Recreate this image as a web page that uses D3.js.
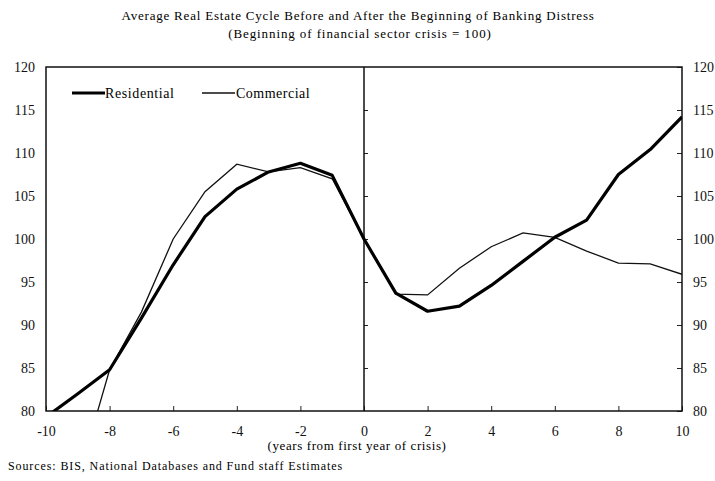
<!DOCTYPE html>
<html lang="en">
<head>
<meta charset="UTF-8">
<title>Average Real Estate Cycle</title>
<script src="https://cdn.jsdelivr.net/npm/d3@7/dist/d3.min.js"></script>
<style>
  body { margin: 0; background: #fff; }
  svg { display: block; font-family: "Liberation Serif", "Times New Roman", serif; }
</style>
</head>
<body>
<div class="container"></div>
<script>
// years from first year of crisis
const years = [-10, -9, -8, -7, -6, -5, -4, -3, -2, -1, 0, 1, 2, 3, 4, 5, 6, 7, 8, 9, 10]
const residential = [79.3, 82.0, 84.8, 90.8, 97.0, 102.6, 105.8, 107.8, 108.8, 107.4, 100,
                     93.7, 91.6, 92.2, 94.6, 97.4, 100.2, 102.2, 107.5, 110.4, 114.2]
const commercial = [null, 72.0, 84.8, 91.5, 100.0, 105.5, 108.7, 107.8, 108.3, 107.0, 100,
                    93.6, 93.5, 96.6, 99.1, 100.7, 100.2, 98.6, 97.2, 97.1, 95.9]
const yTicks = [80, 85, 90, 95, 100, 105, 110, 115, 120]
const xTicks = [-10, -8, -6, -4, -2, 0, 2, 4, 6, 8, 10]

const W = 715, H = 481
const m = {left: 46, right: 682, top: 67, bottom: 411}

const svg = d3.select(".container").append("svg")
    .attr("width", W).attr("height", H)

const x = d3.scaleLinear().domain([-10, 10]).range([m.left, m.right])
const y = d3.scaleLinear().domain([80, 120]).range([m.bottom, m.top])

// title
svg.append("text").attr("x", 358).attr("y", 20).attr("text-anchor", "middle")
    .attr("font-size", 13).attr("letter-spacing", 0.8)
    .text("Average Real Estate Cycle Before and After the Beginning of Banking Distress")
svg.append("text").attr("x", 360).attr("y", 38).attr("text-anchor", "middle")
    .attr("font-size", 13).attr("letter-spacing", 0.9)
    .text("(Beginning of financial sector crisis = 100)")

// clip
svg.append("clipPath").attr("id", "plot")
    .append("rect").attr("x", m.left).attr("y", m.top)
    .attr("width", m.right - m.left).attr("height", m.bottom - m.top)

function styleText(sel) {
    sel.selectAll("text").attr("font-size", 14).attr("font-family", "Liberation Serif").attr("fill", "#111")
}

// left axis (labels only)
const left = svg.append("g").attr("transform", `translate(${m.left},0)`)
    .call(d3.axisLeft(y).tickValues(yTicks).tickSize(0).tickPadding(11))
left.select(".domain").remove()
styleText(left)

// right axis, ticks inward
const right = svg.append("g").attr("transform", `translate(${m.right},0)`)
    .call(d3.axisRight(y).tickValues(yTicks).tickSizeInner(-5).tickSizeOuter(0).tickPadding(11))
right.select(".domain").remove()
styleText(right)
right.selectAll("line").attr("stroke", "#222")

// bottom axis, ticks inward
const bottom = svg.append("g").attr("transform", `translate(0,${m.bottom})`)
    .call(d3.axisBottom(x).tickValues(xTicks).tickSizeInner(-5).tickSizeOuter(0).tickPadding(15)
        .tickFormat(d => String(d)))
bottom.select(".domain").remove()
styleText(bottom)
bottom.selectAll("line").attr("stroke", "#222")

// zero line with ticks to the right
const zero = svg.append("g").attr("transform", `translate(${x(0)},0)`)
    .call(d3.axisRight(y).tickValues(yTicks.slice(1, -1)).tickSizeInner(4).tickSizeOuter(0).tickFormat(""))
zero.select(".domain").remove()
zero.selectAll("line").attr("stroke", "#222")
svg.append("line").attr("x1", x(0)).attr("x2", x(0)).attr("y1", m.top).attr("y2", m.bottom)
    .attr("stroke", "#111").attr("stroke-width", 1.5)

// frame
svg.append("rect").attr("x", m.left).attr("y", m.top)
    .attr("width", m.right - m.left).attr("height", m.bottom - m.top)
    .attr("fill", "none").attr("stroke", "#111").attr("stroke-width", 1.5)

// lines
const line = d3.line()
    .defined(d => d[1] != null)
    .x(d => x(d[0])).y(d => y(d[1]))

const g = svg.append("g").attr("clip-path", "url(#plot)")
g.append("path").datum(years.map((yr, i) => [yr, commercial[i]]))
    .attr("d", line).attr("fill", "none").attr("stroke", "#111").attr("stroke-width", 1.3)
g.append("path").datum(years.map((yr, i) => [yr, residential[i]]))
    .attr("d", line).attr("fill", "none").attr("stroke", "#000").attr("stroke-width", 3.2)
    .attr("stroke-linejoin", "round")

// legend
const legend = svg.append("g")
legend.append("line").attr("x1", 72).attr("x2", 105).attr("y1", 93).attr("y2", 93)
    .attr("stroke", "#000").attr("stroke-width", 3.2)
legend.append("text").attr("x", 105).attr("y", 98).attr("font-size", 14).attr("letter-spacing", 0.6)
    .text("Residential")
legend.append("line").attr("x1", 202).attr("x2", 235).attr("y1", 93).attr("y2", 93)
    .attr("stroke", "#111").attr("stroke-width", 1.3)
legend.append("text").attr("x", 236).attr("y", 98).attr("font-size", 14).attr("letter-spacing", 0.5)
    .text("Commercial")

// axis title and source
svg.append("text").attr("x", 357).attr("y", 450).attr("text-anchor", "middle")
    .attr("font-size", 13).attr("letter-spacing", 0.6).text("(years from first year of crisis)")
svg.append("text").attr("x", 8).attr("y", 470)
    .attr("font-size", 12).attr("letter-spacing", 0.9)
    .text("Sources: BIS, National Databases and Fund staff Estimates")
</script>
</body>
</html>
